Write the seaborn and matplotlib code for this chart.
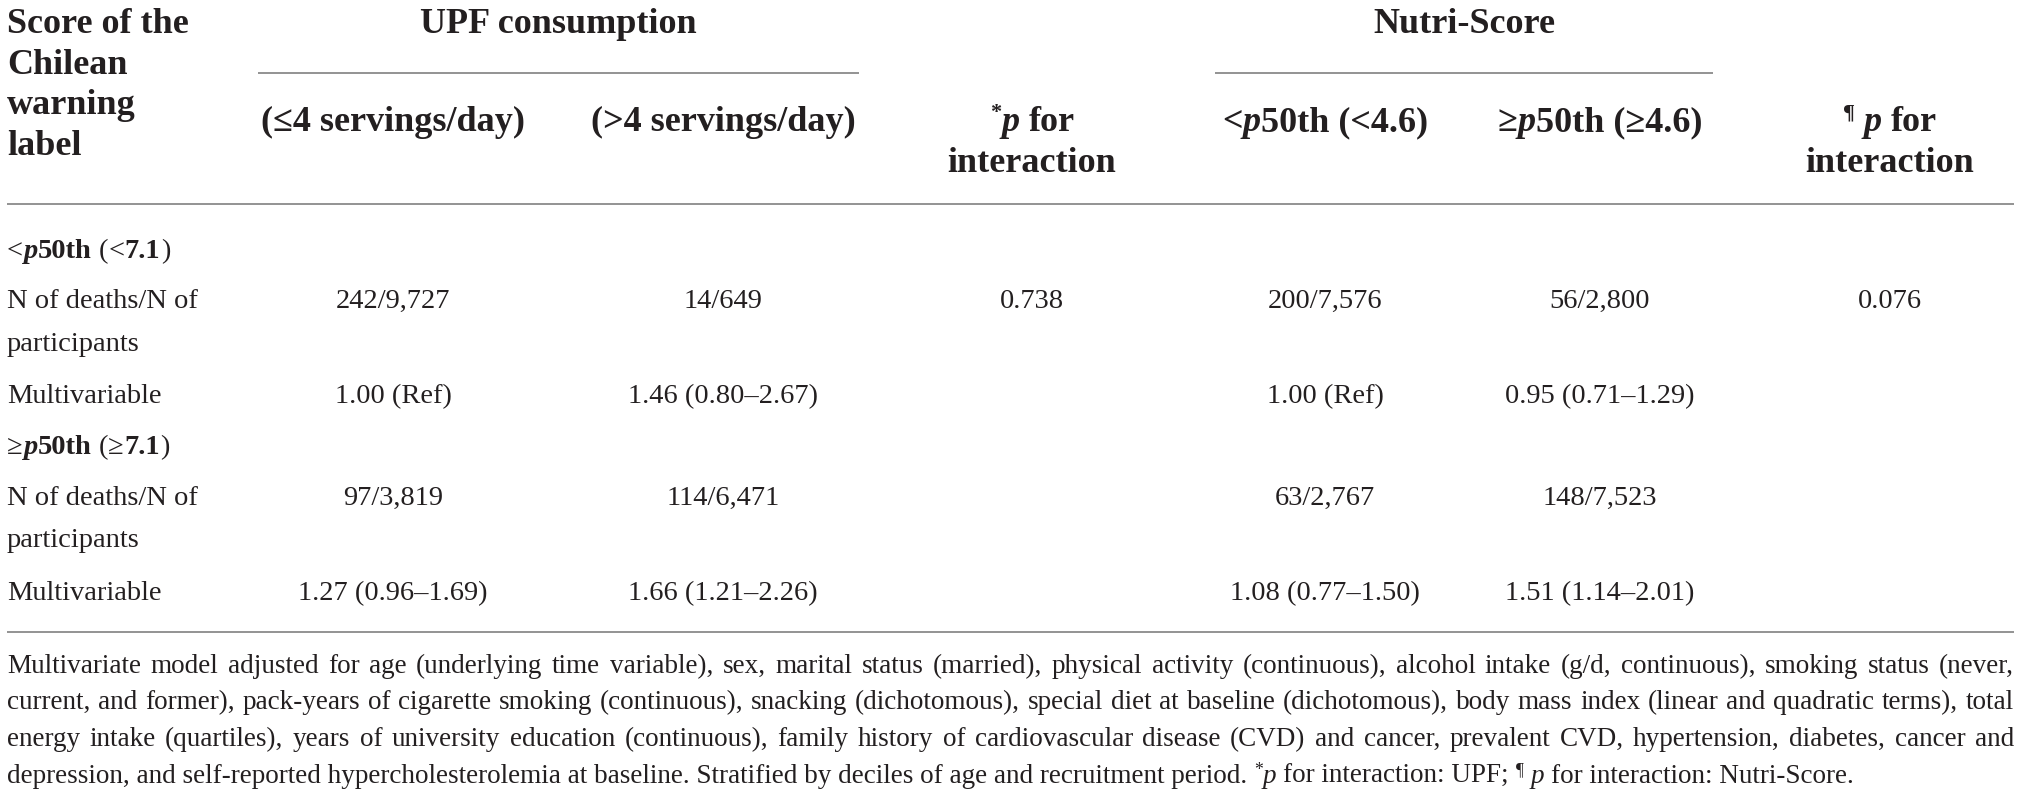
import matplotlib
matplotlib.use("Agg")
import matplotlib.pyplot as plt
import seaborn as sns

# ---------------- data ----------------
stub_title = ["Score of the", "Chilean", "warning", "label"]
group_titles = ["UPF consumption", "Nutri-Score"]
upf_levels = ["(≤4 servings/day)", "(>4 servings/day)"]
nutri_levels = [("<", "50th (<4.6)"), ("≥", "50th (≥4.6)")]
pint_header = ["for", "interaction"]
group_labels = [("<", "<", "7.1"), ("≥", "≥", "7.1")]
row_label_deaths = ["N of deaths/N of", "participants"]
row_label_mv = "Multivariable"

deaths_upf_low = ["242/9,727", "97/3,819"]
deaths_upf_high = ["14/649", "114/6,471"]
p_int_upf = ["0.738", ""]
deaths_ns_low = ["200/7,576", "63/2,767"]
deaths_ns_high = ["56/2,800", "148/7,523"]
p_int_ns = ["0.076", ""]

hr_upf_low = ["1.00 (Ref)", "1.27 (0.96–1.69)"]
hr_upf_high = ["1.46 (0.80–2.67)", "1.66 (1.21–2.26)"]
hr_ns_low = ["1.00 (Ref)", "1.08 (0.77–1.50)"]
hr_ns_high = ["0.95 (0.71–1.29)", "1.51 (1.14–2.01)"]

footnote_lines = [
    "Multivariate model adjusted for age (underlying time variable), sex, marital status (married), physical activity (continuous), alcohol intake (g/d, continuous), smoking status (never,",
    "current, and former), pack-years of cigarette smoking (continuous), snacking (dichotomous), special diet at baseline (dichotomous), body mass index (linear and quadratic terms), total",
    "energy intake (quartiles), years of university education (continuous), family history of cardiovascular disease (CVD) and cancer, prevalent CVD, hypertension, diabetes, cancer and",
]
footnote_last = "depression, and self-reported hypercholesterolemia at baseline. Stratified by deciles of age and recruitment period."
footnote_tail = ["for interaction: UPF;", "for interaction: Nutri-Score."]

# ---------------- style ----------------
sns.set_theme(style="white")
FONT = "Liberation Serif"
plt.rcParams["font.family"] = [FONT, "DejaVu Serif"]
TXT = "#231f20"
RULE = "#8a8a8a"
W, H = 2021, 797
HEAD = 26.0
BODY = 20.5
PAD = 0.3

fig = plt.figure(figsize=(W / 100, H / 100), dpi=100)
ax = fig.add_axes([0, 0, 1, 1])
ax.set_xlim(0, W)
ax.set_ylim(H, 0)
ax.axis("off")
R = fig.canvas.get_renderer()


def kw(size, weight="normal", style="normal"):
    return dict(family=[FONT, "DejaVu Serif"], fontsize=size, fontweight=weight,
                fontstyle=style, color=TXT)


def measure(s, k):
    t = ax.text(0, 0, s, **k)
    w = t.get_window_extent(renderer=R).width
    t.remove()
    return w


def runs_width(runs):
    total = 0
    prev_space = True
    for s, k, rise in runs:
        if s == " ":
            total += 0.25 * k["fontsize"] * 100 / 72
            prev_space = True
        else:
            if not prev_space:
                total += PAD
            total += measure(s, k)
            prev_space = False
    return total


def draw_runs(x, y, runs, ha="center"):
    total = runs_width(runs)
    if ha == "center":
        cx = x - total / 2
    elif ha == "right":
        cx = x - total
    else:
        cx = x
    prev_space = True
    for s, k, rise in runs:
        if s == " ":
            cx += 0.25 * k["fontsize"] * 100 / 72
            prev_space = True
            continue
        if not prev_space:
            cx += PAD
        ax.text(cx, y - rise, s, ha="left", va="baseline", **k)
        cx += measure(s, k)
        prev_space = False


def text(x, y, s, k, ha="center"):
    ax.text(x, y, s, ha=ha, va="baseline", **k)


# ---------------- layout ----------------
XL, XR = 7, 2014
col_x = [393, 723, 1032, 1325, 1600, 1890]
head_y = [33, 74, 114, 155]
sub_y = [131, 172]

hb = kw(HEAD, "bold")
hbi = kw(HEAD, "bold", "italic")
hsup = kw(HEAD * 0.62, "bold")

for s, y in zip(stub_title, head_y):
    text(XL, y, s, hb, ha="left")

text((258 + 859) / 2, head_y[0], group_titles[0], hb)
text((1215 + 1713) / 2, head_y[0], group_titles[1], hb)
ax.hlines(73, 258, 859, color=RULE, lw=1.3)
ax.hlines(73, 1215, 1713, color=RULE, lw=1.3)

text(col_x[0], sub_y[0], upf_levels[0], hb)
text(col_x[1], sub_y[0], upf_levels[1], hb)
for ci, (sym, rest) in zip([3, 4], nutri_levels):
    draw_runs(col_x[ci], sub_y[0], [(sym, hb, 0), ("p", hbi, 0), (rest, hb, 0)])

draw_runs(col_x[2], sub_y[0], [("*", hsup, 13), ("p", hbi, 0), (" ", hb, 0), (pint_header[0], hb, 0)])
text(col_x[2], sub_y[1], pint_header[1], hb)
draw_runs(col_x[5], sub_y[0], [("¶", hsup, 13), (" ", hb, 0), ("p", hbi, 0), (" ", hb, 0), (pint_header[0], hb, 0)])
text(col_x[5], sub_y[1], pint_header[1], hb)

ax.hlines(204, XL, XR, color=RULE, lw=1.3)

br = kw(BODY)
bb = kw(BODY, "bold")
bbi = kw(BODY, "bold", "italic")

group_y = [258, 454]
deaths_y = [308, 505]
part_y = [351, 547]
mv_y = [403, 600]

for g in range(2):
    s1, s2, val = group_labels[g]
    draw_runs(XL, group_y[g], [(s1, br, 0), ("p", bbi, 0), ("50th", bb, 0), (" ", br, 0),
                               ("(", br, 0), (s2, br, 0), (val, bb, 0), (")", br, 0)], ha="left")
    text(XL, deaths_y[g], row_label_deaths[0], br, ha="left")
    text(XL, part_y[g], row_label_deaths[1], br, ha="left")
    text(XL, mv_y[g], row_label_mv, br, ha="left")
    for ci, arr in enumerate([deaths_upf_low, deaths_upf_high, p_int_upf,
                              deaths_ns_low, deaths_ns_high, p_int_ns]):
        if arr[g]:
            text(col_x[ci], deaths_y[g], arr[g], br)
    for ci, arr in zip([0, 1, 3, 4], [hr_upf_low, hr_upf_high, hr_ns_low, hr_ns_high]):
        text(col_x[ci], mv_y[g], arr[g], br)

ax.hlines(632, XL, XR, color=RULE, lw=1.3)

# ---------------- footnote ----------------
def last_runs(size):
    r = kw(size)
    it = kw(size, style="italic")
    sup = kw(size * 0.65)
    return [(footnote_last, r, 0), (" ", r, 0), ("*", sup, 8), ("p", it, 0), (" ", r, 0),
            (footnote_tail[0], r, 0), (" ", r, 0), ("¶", sup, 8), (" ", r, 0), ("p", it, 0),
            (" ", r, 0), (footnote_tail[1], r, 0)]

target_last = 1846
fs = 20.0 * target_last / runs_width(last_runs(20.0))
fr = kw(fs)
foot_y = [673, 709, 746]
for line, y in zip(footnote_lines, foot_y):
    words = line.split(" ")
    ws = [measure(w_, fr) for w_ in words]
    gap = (XR - XL - sum(ws)) / (len(words) - 1)
    cx = XL
    for w_, wd in zip(words, ws):
        ax.text(cx, y, w_, ha="left", va="baseline", **fr)
        cx += wd + gap
draw_runs(XL, 783, last_runs(fs), ha="left")

fig.savefig("out.png", dpi=100, facecolor="white")
